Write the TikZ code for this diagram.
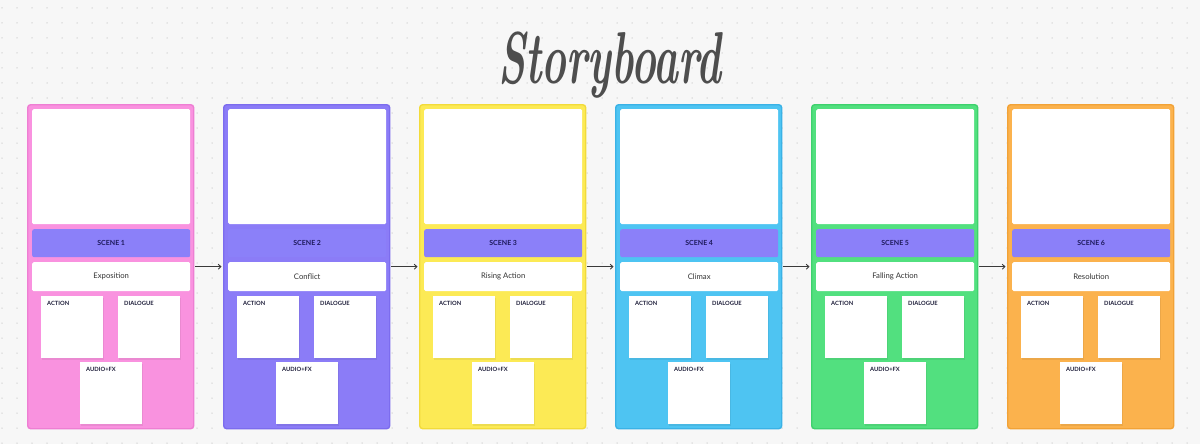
\documentclass[tikz,border=0pt]{standalone}
\usepackage{fontspec}
\setsansfont{Lato}
\usetikzlibrary{arrows.meta}
\definecolor{bgc}{HTML}{F7F7F7}
\definecolor{dotc}{HTML}{D2D2D2}
\definecolor{pinkf}{HTML}{F992DF}\definecolor{pinkb}{HTML}{EE7ED3}
\definecolor{purpf}{HTML}{8B7CF7}\definecolor{purpb}{HTML}{7C6CEE}
\definecolor{yellf}{HTML}{FCEA55}\definecolor{yellb}{HTML}{F2DB3A}
\definecolor{bluef}{HTML}{4EC4F2}\definecolor{blueb}{HTML}{3AB2E6}
\definecolor{greef}{HTML}{52E07F}\definecolor{greeb}{HTML}{3ED16D}
\definecolor{oranf}{HTML}{FBB24D}\definecolor{oranb}{HTML}{F2A236}
\definecolor{scenebar}{HTML}{8B80F9}
\definecolor{scenetxt}{HTML}{1E1A5C}
\definecolor{titlec}{HTML}{4E4E4E}
\definecolor{arrc}{HTML}{3A3A3A}
\definecolor{labc}{HTML}{1E1E3A}
\begin{document}
\begin{tikzpicture}[x=1pt,y=-1pt,
  panelbox/.style={draw=#1b, line width=1.4pt, fill=#1f, rounded corners=3pt, inner sep=0pt,
     minimum width=166pt, minimum height=324pt, anchor=north west},
  imgbox/.style={fill=white, rounded corners=1.5pt, inner sep=0pt, minimum width=158pt, minimum height=115pt, anchor=north west},
  scenebox/.style={fill=scenebar, rounded corners=2pt, inner sep=0pt, minimum width=158pt, minimum height=28pt, anchor=north west,
     font=\sffamily\bfseries\fontsize{7}{8}\selectfont, text=scenetxt},
  descbox/.style={fill=white, rounded corners=1.5pt, inner sep=0pt, minimum width=158pt, minimum height=29pt, anchor=north west,
     font=\sffamily\fontsize{7.7}{9}\selectfont, text=black!80},
  sticky/.style={fill=white, inner sep=0pt, minimum width=62pt, minimum height=62pt, anchor=north west},
  stickyshadow/.style={fill=black, opacity=0.06},
  stickylab/.style={anchor=north west, inner sep=0pt, font=\sffamily\bfseries\fontsize{5.8}{7}\selectfont, text=labc},
  arr/.style={draw=arrc, line width=0.9pt, -{Straight Barb[length=2.6pt,width=5pt]}, shorten <=1pt, shorten >=1.5pt}
]
\useasboundingbox (0,0) rectangle (1200,444);
\fill[bgc] (0,0) rectangle (1200,444);
\foreach \x in {2,17,...,1200}
  \foreach \y in {8,23,...,444}
    \fill[dotc] (\x,\y) circle (0.75);

\node[font=\rmfamily\bfseries\itshape\fontsize{42}{46}\selectfont, text=titlec, inner sep=0pt] (title) at (610,65)
  {\scalebox{1}[1.75]{Storyboard}};

\foreach \i/\c/\t in {1/pink/Exposition,2/purp/Conflict,3/yell/Rising Action,4/blue/Climax,5/gree/Falling Action,6/oran/Resolution}{
  \pgfmathsetmacro{\px}{27+196*(\i-1)}
  \node[panelbox=\c] (p\i) at (\px,104) {};
  \node[imgbox] (img\i) at (\px+5,109) {};
  \node[scenebox] (s\i) at (\px+5,229) {SCENE \i};
  \node[descbox] (d\i) at (\px+5,262) {\t};
  \fill[stickyshadow] (\px+14.5,297.5) rectangle ++(62.5,62);
  \fill[stickyshadow] (\px+91.5,297.5) rectangle ++(62.5,62);
  \fill[stickyshadow] (\px+53.5,363.5) rectangle ++(62.5,62);
  \node[sticky] (a\i) at (\px+14,296) {};
  \node[sticky] (g\i) at (\px+91,296) {};
  \node[sticky] (f\i) at (\px+53,362) {};
  \node[stickylab] (al\i) at ([xshift=6pt,yshift=-5pt]a\i.north west) {ACTION};
  \node[stickylab] (gl\i) at ([xshift=6pt,yshift=-5pt]g\i.north west) {DIALOGUE};
  \node[stickylab] (fl\i) at ([xshift=6pt,yshift=-5pt]f\i.north west) {AUDIO+FX};
}
\foreach \i/\j in {1/2,2/3,3/4,4/5,5/6}
  \draw[arr] (p\i.east) -- (p\j.west);
\end{tikzpicture}
\end{document}
